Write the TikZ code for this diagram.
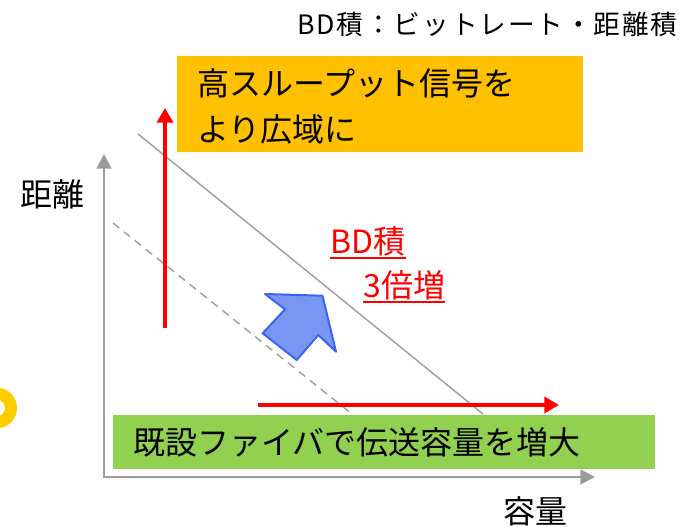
\documentclass[tikz,border=0pt]{standalone}
\usepackage{fontspec}
\newfontfamily\jp{Noto Sans CJK JP}
\newfontfamily\jpt[LetterSpace=7]{Noto Sans CJK JP}
\usetikzlibrary{arrows.meta}
\definecolor{axisgray}{HTML}{9B9B9B}
\definecolor{linegray}{HTML}{A0A0A0}
\definecolor{orangebox}{HTML}{FFC000}
\definecolor{greenbox}{HTML}{92D050}
\definecolor{bluefill}{HTML}{7896F2}
\definecolor{blueline}{HTML}{3C64F0}
\definecolor{redc}{HTML}{FF0000}
\definecolor{yellowc}{HTML}{FFCC00}
\begin{document}
\begin{tikzpicture}[x=0.75pt,y=-0.75pt,
  txt/.style={inner sep=0pt, anchor=west, font=\jp\fontsize{24}{28}\selectfont},
  ttl/.style={inner sep=0pt, anchor=west, font=\jpt\fontsize{20}{24}\selectfont},
  redtxt/.style={txt, text=redc},
  axisline/.style={draw=axisgray, line width=2.2pt, line join=miter,
    {Triangle[length=11pt,width=11pt]}-{Triangle[length=11pt,width=11pt]}},
  redarrow/.style={draw=redc, line width=3pt, -{Triangle[length=11pt,width=12pt]}},
  diag/.style={draw=linegray, line width=1.1pt},
  ulin/.style={draw=redc, line width=1.4pt}]
\useasboundingbox (0,0) rectangle (679,526);

% partial yellow ring at left edge
\fill[yellowc, even odd rule] (-3.25,408) circle[radius=15.2pt] (-3.25,408) circle[radius=6.2pt];

% diagonal lines
\coordinate (s1) at (138,134);
\coordinate (s2) at (483,414);
\coordinate (d1) at (113,223);
\coordinate (d2) at (352,414);
\draw[diag] (s1) -- (s2);
\draw[diag, dash pattern=on 6pt off 4.5pt] (d1) -- (d2);

% axes
\coordinate (ytip) at (104,154);
\coordinate (O) at (104,477);
\coordinate (xtip) at (595,477);
\draw[axisline] (ytip) -- (O) -- (xtip);

% boxes
\fill[orangebox] (177,56) rectangle (583,152);
\fill[greenbox] (113,415) rectangle (655,469);

% red arrows
\coordinate (rv1) at (165,328);
\coordinate (rv2) at (165,108);
\coordinate (rh1) at (258,405);
\coordinate (rh2) at (559,405);
\draw[redarrow] (rv1) -- (rv2);
\draw[redarrow] (rh1) -- (rh2);

% blue block arrow
\filldraw[fill=bluefill, draw=blueline, line width=1.5pt, line join=round]
  (265,294) -- (322.5,295.7) -- (336,351.7) -- (318.3,335) -- (296.7,360)
  -- (262.7,333.3) -- (285,309.3) -- cycle;

% texts
\node[ttl] (title) at (297,24) {BD積：ビットレート・距離積};
\node[txt] (o1) at (197,83.5) {高スループット信号を};
\node[txt] (o2) at (197,129) {より広域に};
\node[txt] (g1) at (133,442) {既設ファイバで伝送容量を増大};
\node[txt] (ylab) at (20,194) {距離};
\node[txt] (xlab) at (503,511) {容量};
\node[redtxt] (bd) at (330,241) {BD積};
\node[redtxt] (tb) at (363,285) {3倍増};
\draw[ulin] ([yshift=-1.5pt]bd.south west) -- ([yshift=-1.5pt]bd.south east);
\draw[ulin] ([yshift=-1.5pt]tb.south west) -- ([yshift=-1.5pt]tb.south east);
\end{tikzpicture}
\end{document}
